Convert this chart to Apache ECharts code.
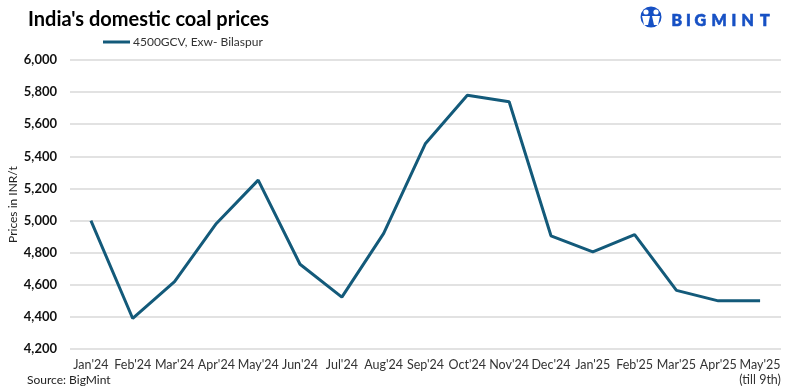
<!DOCTYPE html>
<html>
<head>
<meta charset="utf-8">
<script src="https://cdn.jsdelivr.net/npm/echarts@6/dist/echarts.min.js"></script>
<style>
html,body{margin:0;padding:0;background:#fff;}
#chart{width:787px;height:392px;}
</style>
</head>
<body>
<div id="chart"></div>
<script>
const categories = ["Jan'24","Feb'24","Mar'24","Apr'24","May'24","Jun'24","Jul'24","Aug'24","Sep'24","Oct'24","Nov'24","Dec'24","Jan'25","Feb'25","Mar'25","Apr'25","May'25\n(till 9th)"];
const prices = [5000,4390,4620,4982,5252,4728,4523,4920,5480,5780,5740,4905,4805,4912,4565,4500,4500];
const seriesName = "4500GCV, Exw- Bilaspur";
const yTicks = {min:4200, max:6000, interval:200};

const FONT = "Lato, 'Open Sans', sans-serif";
const logoLetters = ['B','I','G','M','I','N','T'];
const logoX = [671.5, 686, 694.5, 711.5, 731.5, 741.5, 760];
const logoGraphics = logoLetters.map((ch, i) => ({
  type:'text', x:logoX[i], y:21,
  style:{text:ch, font:"900 16px "+FONT, fill:'#1650c4', verticalAlign:'middle', align:'left',
         stroke:'#1650c4', lineWidth:0.6}
}));

const chart = echarts.init(document.getElementById('chart'), null, {renderer:'canvas'});
chart.setOption({
  backgroundColor:'#fff',
  animation:false,
  title:{
    text:"India's domestic coal prices",
    left:23, top:5,
    textStyle:{fontFamily:FONT, fontSize:20, fontWeight:'bold', color:'#000'}
  },
  legend:{
    data:[seriesName],
    left:98, top:31,
    itemWidth:27, itemHeight:3, itemGap:4,
    icon:'rect',
    textStyle:{fontFamily:FONT, fontSize:12, color:'#333', padding:[0,0,0,-2]}
  },
  grid:{left:70, right:6, top:60, bottom:43, containLabel:false, outerBoundsMode:'none'},
  xAxis:{
    type:'category',
    data:categories,
    boundaryGap:true,
    axisLine:{show:false},
    axisTick:{show:false},
    axisLabel:{fontFamily:FONT, fontSize:12.5, color:'#333', margin:8, interval:0, lineHeight:15}
  },
  yAxis:{
    type:'value',
    min:yTicks.min, max:yTicks.max, interval:yTicks.interval,
    name:'Prices in INR/t',
    nameLocation:'middle', nameGap:57, nameRotate:90, nameMoveOverlap:false,
    nameTextStyle:{fontFamily:FONT, fontSize:12, color:'#222', verticalAlign:'middle'},
    axisLabel:{fontFamily:FONT, fontSize:13, fontWeight:'bold', color:'#111', margin:13,
      formatter:v=>v.toLocaleString('en-US')},
    splitLine:{lineStyle:{color:'#d9d9d9', width:1.5}},
    axisLine:{show:false}, axisTick:{show:false}
  },
  series:[{
    name:seriesName,
    type:'line',
    data:prices,
    symbol:'none',
    lineStyle:{color:'#135a7a', width:3},
    itemStyle:{color:'#135a7a'}
  }],
  graphic:[
    {type:'text', left:27, top:374, style:{text:'Source: BigMint', font:"12px "+FONT, fill:'#222'}},
    {type:'circle', shape:{cx:651, cy:17, r:10.5}, style:{fill:'#1650c4'}},
    {type:'circle', shape:{cx:646, cy:12, r:2.6}, style:{fill:'#fff'}},
    {type:'circle', shape:{cx:656, cy:12, r:2.6}, style:{fill:'#fff'}},
    {type:'polygon', shape:{points:[[642,16],[650,16],[648,25],[644,25]]}, style:{fill:'#fff'}},
    {type:'polygon', shape:{points:[[652,16],[660,16],[658,25],[654,25]]}, style:{fill:'#fff'}}
  ].concat(logoGraphics)
});
</script>
</body>
</html>
